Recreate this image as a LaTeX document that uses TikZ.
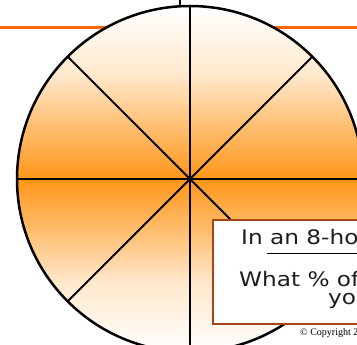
\documentclass[tikz,border=0pt]{standalone}
\usepackage{fontspec}
\usepackage{xcolor}
\newfontfamily\boxfont[FakeStretch=1.16]{DejaVu Sans}
\newfontfamily\smallserif{Liberation Serif}
\definecolor{rule}{RGB}{255,102,0}
\definecolor{pieorange}{RGB}{255,150,25}
\definecolor{framebrown}{RGB}{165,68,20}
\definecolor{inktext}{RGB}{30,30,30}
\pgfdeclareverticalshading{piefill}{100bp}{%
  color(0bp)=(white); color(25bp)=(white);
  color(35bp)=(pieorange!22!white); color(43bp)=(pieorange!65!white);
  color(50bp)=(pieorange);
  color(57bp)=(pieorange!65!white); color(65bp)=(pieorange!22!white);
  color(75bp)=(white); color(100bp)=(white)}

\begin{document}
\begin{tikzpicture}[x=1pt, y=-1pt,
    spoke/.style={line width=2pt, black},
    qtext/.style={anchor=base west, inner sep=0pt, text=inktext, font=\boxfont\fontsize{20}{21}\selectfont}]
    \useasboundingbox (0,0) rectangle (357,345);
    \clip (0,0) rectangle (357,345);
    % top rule
    \draw[rule, line width=3pt] (0,28) -- (357,28);
    % pie
    \coordinate (c) at (190,179);
    \shade[shading=piefill] (c) circle [radius=173];
    \foreach \a in {0,45,...,315}
        \draw[spoke] (c) -- +(\a:173);
    \draw[line width=2.5pt] (c) circle [radius=173];
    \draw[line width=2pt] (180,0) -- (180,6);
    % question box
    \draw[framebrown, line width=2.5pt, fill=white] (213,220) rectangle (400,324);
    \node[qtext] (q1) at (241,245) {In an 8-ho};
    \node[qtext] (q2) at (239,287) {What \% of};
    \node[qtext] (q3) at (328,305) {yo};
    \draw[line width=1pt] (267,254) -- (360,254);
    \node[anchor=base west, inner sep=0pt, font=\smallserif\fontsize{10}{11}\selectfont] (copy) at (300,336) {\textcopyright\ Copyright 2};
\end{tikzpicture}
\end{document}
